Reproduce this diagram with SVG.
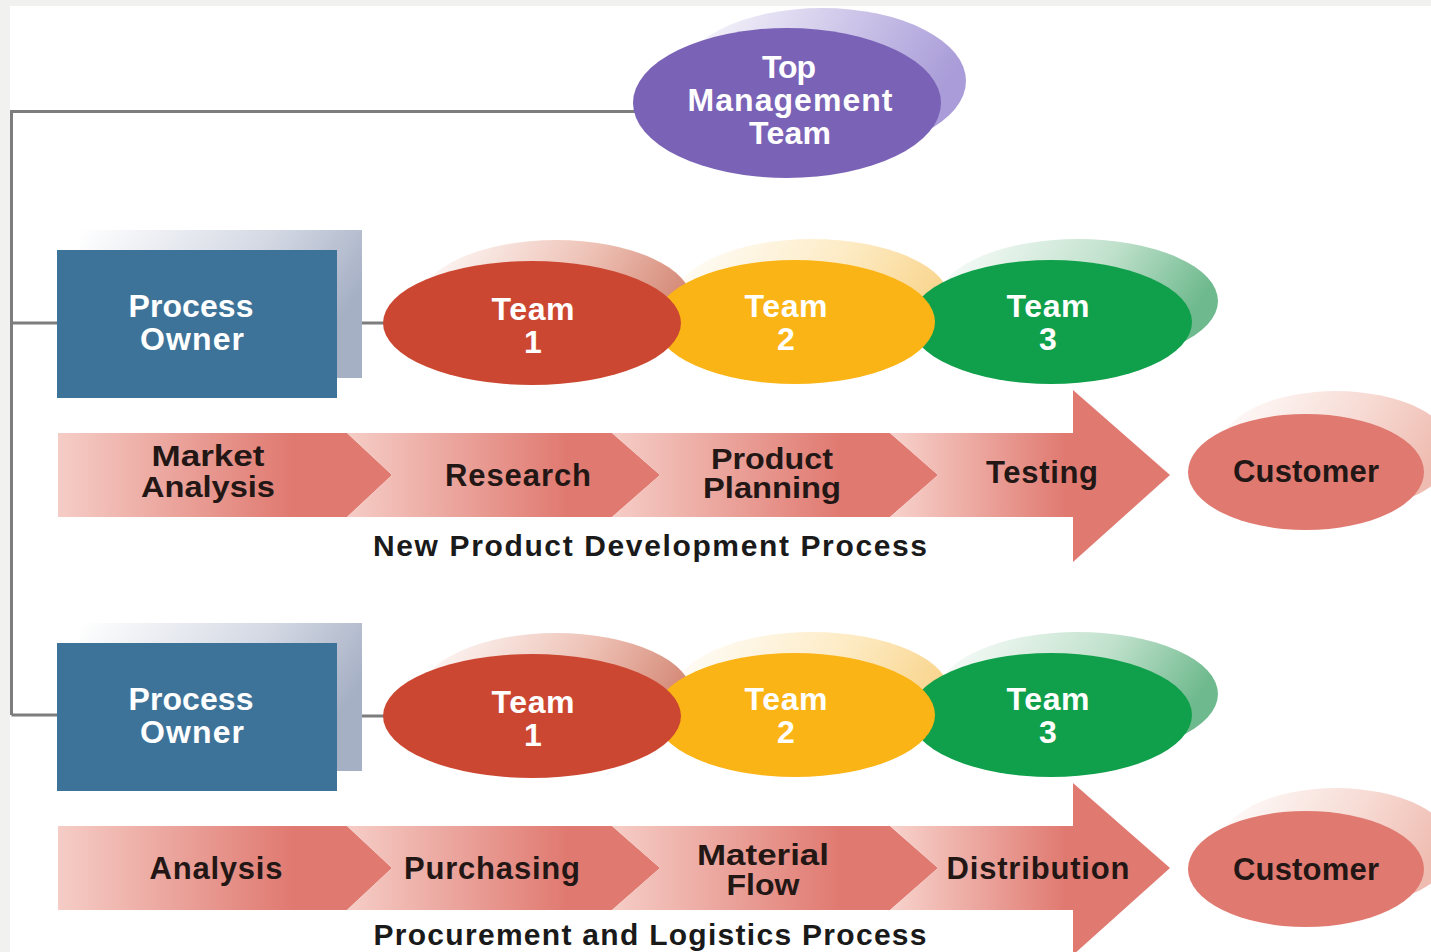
<svg xmlns="http://www.w3.org/2000/svg" width="1431" height="952" viewBox="0 0 1431 952">
<defs>
<style>
.wt{font-family:"Liberation Sans",Arial,sans-serif;font-weight:bold;font-size:32px;fill:#ffffff;text-anchor:middle}
.dk{font-family:"Liberation Sans",Arial,sans-serif;font-weight:bold;font-size:31px;fill:#231716;text-anchor:middle}
.dk2{font-family:"Liberation Sans",Arial,sans-serif;font-weight:bold;font-size:29px;fill:#231716;text-anchor:middle}
.cap{font-family:"Liberation Sans",Arial,sans-serif;font-weight:bold;font-size:30px;fill:#1a1a1a;text-anchor:middle}
.conn{stroke:#7d7d7d;stroke-width:3;fill:none}
</style>
<linearGradient id="gPurpleSh" x1="0" y1="0" x2="1" y2="0.3"><stop offset="0" stop-color="#ffffff"/><stop offset="0.6" stop-color="#cbc3e8"/><stop offset="1" stop-color="#a99cd8"/></linearGradient>
<linearGradient id="gRedSh" x1="0" y1="0" x2="1" y2="0.3"><stop offset="0" stop-color="#ffffff"/><stop offset="0.6" stop-color="#eec2b6"/><stop offset="1" stop-color="#d58a78"/></linearGradient>
<linearGradient id="gYelSh" x1="0" y1="0" x2="1" y2="0.3"><stop offset="0" stop-color="#ffffff"/><stop offset="0.6" stop-color="#fdebc4"/><stop offset="1" stop-color="#f9d58e"/></linearGradient>
<linearGradient id="gGrnSh" x1="0" y1="0" x2="1" y2="0.3"><stop offset="0" stop-color="#ffffff"/><stop offset="0.6" stop-color="#c0e1cc"/><stop offset="1" stop-color="#6eb98d"/></linearGradient>
<linearGradient id="gCustSh" x1="0" y1="0" x2="1" y2="0.3"><stop offset="0" stop-color="#ffffff"/><stop offset="0.6" stop-color="#f7dbd4"/><stop offset="1" stop-color="#efbcb1"/></linearGradient>
<linearGradient id="gBoxSh" x1="0" y1="0" x2="1" y2="0.4"><stop offset="0" stop-color="#ffffff"/><stop offset="0.6" stop-color="#d3d8e3"/><stop offset="1" stop-color="#a6b0c5"/></linearGradient>
<linearGradient id="gSeg" x1="0" y1="0" x2="1" y2="0"><stop offset="0" stop-color="#f5cdc6"/><stop offset="0.7" stop-color="#e07a71"/><stop offset="1" stop-color="#e07a71"/></linearGradient>
<linearGradient id="gBig" gradientUnits="userSpaceOnUse" x1="890" y1="0" x2="1065" y2="0"><stop offset="0" stop-color="#f7d3cc"/><stop offset="1" stop-color="#e07a71"/></linearGradient>
</defs>
<rect x="0" y="0" width="1431" height="952" fill="#f1f1ef"/>
<rect x="10" y="6" width="1421" height="946" fill="#ffffff"/>

<g id="connectors">
<polyline class="conn" points="635,111.5 11.5,111.5 11.5,715"/>
<line class="conn" x1="11.5" y1="323" x2="57" y2="323"/>
<line class="conn" x1="11.5" y1="715" x2="57" y2="715"/>
<line class="conn" x1="337" y1="323" x2="386" y2="323"/>
<line class="conn" x1="337" y1="716" x2="386" y2="716"/>
</g>

<g id="top-management">
<ellipse cx="822" cy="81" rx="144" ry="73" fill="url(#gPurpleSh)"/>
<ellipse cx="787" cy="103" rx="154" ry="75" fill="#7a63b6"/>
<text class="wt" x="789" y="78" textLength="54" lengthAdjust="spacing">Top</text>
<text class="wt" x="790" y="111" textLength="205" lengthAdjust="spacing">Management</text>
<text class="wt" x="790" y="144" textLength="82" lengthAdjust="spacing">Team</text>
</g>

<g id="process-owner-1">
<rect x="80" y="230" width="282" height="148" fill="url(#gBoxSh)"/>
<rect x="57" y="250" width="280" height="148" fill="#3e7399"/>
<text class="wt" x="191" y="317" textLength="125" lengthAdjust="spacing">Process</text>
<text class="wt" x="192" y="350" textLength="104" lengthAdjust="spacing">Owner</text>
</g>

<g id="team-row-1">
<ellipse cx="1078" cy="301" rx="140" ry="62" fill="url(#gGrnSh)"/>
<ellipse cx="812" cy="301" rx="138" ry="62" fill="url(#gYelSh)"/>
<ellipse cx="556" cy="302" rx="136" ry="62" fill="url(#gRedSh)"/>
<g id="team3-1"><ellipse cx="1051" cy="322" rx="141" ry="62" fill="#10a04b"/>
<text class="wt" x="1048" y="317" textLength="83" lengthAdjust="spacing">Team</text>
<text class="wt" x="1048" y="350">3</text></g>
<g id="team2-1"><ellipse cx="795" cy="322" rx="140" ry="62" fill="#fbb416"/>
<text class="wt" x="786" y="317" textLength="83" lengthAdjust="spacing">Team</text>
<text class="wt" x="786" y="350">2</text></g>
<g id="team1-1"><ellipse cx="532" cy="323" rx="149" ry="62" fill="#cc4732"/>
<text class="wt" x="533" y="320" textLength="83" lengthAdjust="spacing">Team</text>
<text class="wt" x="533" y="353">1</text></g>
</g>

<g id="process-row-1">
<g id="market-analysis"><polygon points="58,433 347,433 392,475 347,517 58,517" fill="url(#gSeg)"/>
<text class="dk2" x="208" y="466" textLength="113" lengthAdjust="spacingAndGlyphs">Market</text>
<text class="dk2" x="208" y="497" textLength="134" lengthAdjust="spacingAndGlyphs">Analysis</text></g>
<g id="research"><polygon points="347,433 612,433 660,475 612,517 347,517 392,475" fill="url(#gSeg)"/>
<text class="dk" x="518" y="486" textLength="146" lengthAdjust="spacing">Research</text></g>
<g id="product-planning"><polygon points="612,433 890,433 938,475 890,517 612,517 660,475" fill="url(#gSeg)"/>
<text class="dk2" x="772" y="469" textLength="122" lengthAdjust="spacingAndGlyphs">Product</text>
<text class="dk2" x="772" y="498" textLength="138" lengthAdjust="spacingAndGlyphs">Planning</text></g>
<g id="testing"><polygon points="890,433 1073,433 1073,390 1170,475 1073,562 1073,517 890,517 938,475" fill="url(#gBig)"/>
<text class="dk" x="1042" y="483" textLength="112" lengthAdjust="spacing">Testing</text></g>
<g id="customer-1"><ellipse cx="1336" cy="451" rx="118" ry="60" fill="url(#gCustSh)"/>
<ellipse cx="1306" cy="472" rx="118" ry="58" fill="#e07a71"/>
<text class="dk" x="1306" y="482" textLength="146" lengthAdjust="spacing">Customer</text></g>
<text class="cap" x="650" y="556" textLength="554" lengthAdjust="spacing">New Product Development Process</text>
</g>

<g id="process-owner-2">
<rect x="80" y="623" width="282" height="148" fill="url(#gBoxSh)"/>
<rect x="57" y="643" width="280" height="148" fill="#3e7399"/>
<text class="wt" x="191" y="710" textLength="125" lengthAdjust="spacing">Process</text>
<text class="wt" x="192" y="743" textLength="104" lengthAdjust="spacing">Owner</text>
</g>

<g id="team-row-2">
<ellipse cx="1078" cy="694" rx="140" ry="62" fill="url(#gGrnSh)"/>
<ellipse cx="812" cy="694" rx="138" ry="62" fill="url(#gYelSh)"/>
<ellipse cx="556" cy="695" rx="136" ry="62" fill="url(#gRedSh)"/>
<g id="team3-2"><ellipse cx="1051" cy="715" rx="141" ry="62" fill="#10a04b"/>
<text class="wt" x="1048" y="710" textLength="83" lengthAdjust="spacing">Team</text>
<text class="wt" x="1048" y="743">3</text></g>
<g id="team2-2"><ellipse cx="795" cy="715" rx="140" ry="62" fill="#fbb416"/>
<text class="wt" x="786" y="710" textLength="83" lengthAdjust="spacing">Team</text>
<text class="wt" x="786" y="743">2</text></g>
<g id="team1-2"><ellipse cx="532" cy="716" rx="149" ry="62" fill="#cc4732"/>
<text class="wt" x="533" y="713" textLength="83" lengthAdjust="spacing">Team</text>
<text class="wt" x="533" y="746">1</text></g>
</g>

<g id="process-row-2">
<g id="analysis"><polygon points="58,826 347,826 392,868 347,910 58,910" fill="url(#gSeg)"/>
<text class="dk" x="216" y="879" textLength="133" lengthAdjust="spacing">Analysis</text></g>
<g id="purchasing"><polygon points="347,826 612,826 660,868 612,910 347,910 392,868" fill="url(#gSeg)"/>
<text class="dk" x="492" y="879" textLength="176" lengthAdjust="spacing">Purchasing</text></g>
<g id="material-flow"><polygon points="612,826 890,826 938,868 890,910 612,910 660,868" fill="url(#gSeg)"/>
<text class="dk2" x="763" y="865" textLength="132" lengthAdjust="spacingAndGlyphs">Material</text>
<text class="dk2" x="763" y="895" textLength="73" lengthAdjust="spacingAndGlyphs">Flow</text></g>
<g id="distribution"><polygon points="890,826 1073,826 1073,783 1170,868 1073,955 1073,910 890,910 938,868" fill="url(#gBig)"/>
<text class="dk" x="1038" y="879" textLength="183" lengthAdjust="spacing">Distribution</text></g>
<g id="customer-2"><ellipse cx="1336" cy="848" rx="118" ry="60" fill="url(#gCustSh)"/>
<ellipse cx="1306" cy="869" rx="118" ry="58" fill="#e07a71"/>
<text class="dk" x="1306" y="880" textLength="146" lengthAdjust="spacing">Customer</text></g>
<text class="cap" x="650" y="945" textLength="553" lengthAdjust="spacing">Procurement and Logistics Process</text>
</g>
</svg>
